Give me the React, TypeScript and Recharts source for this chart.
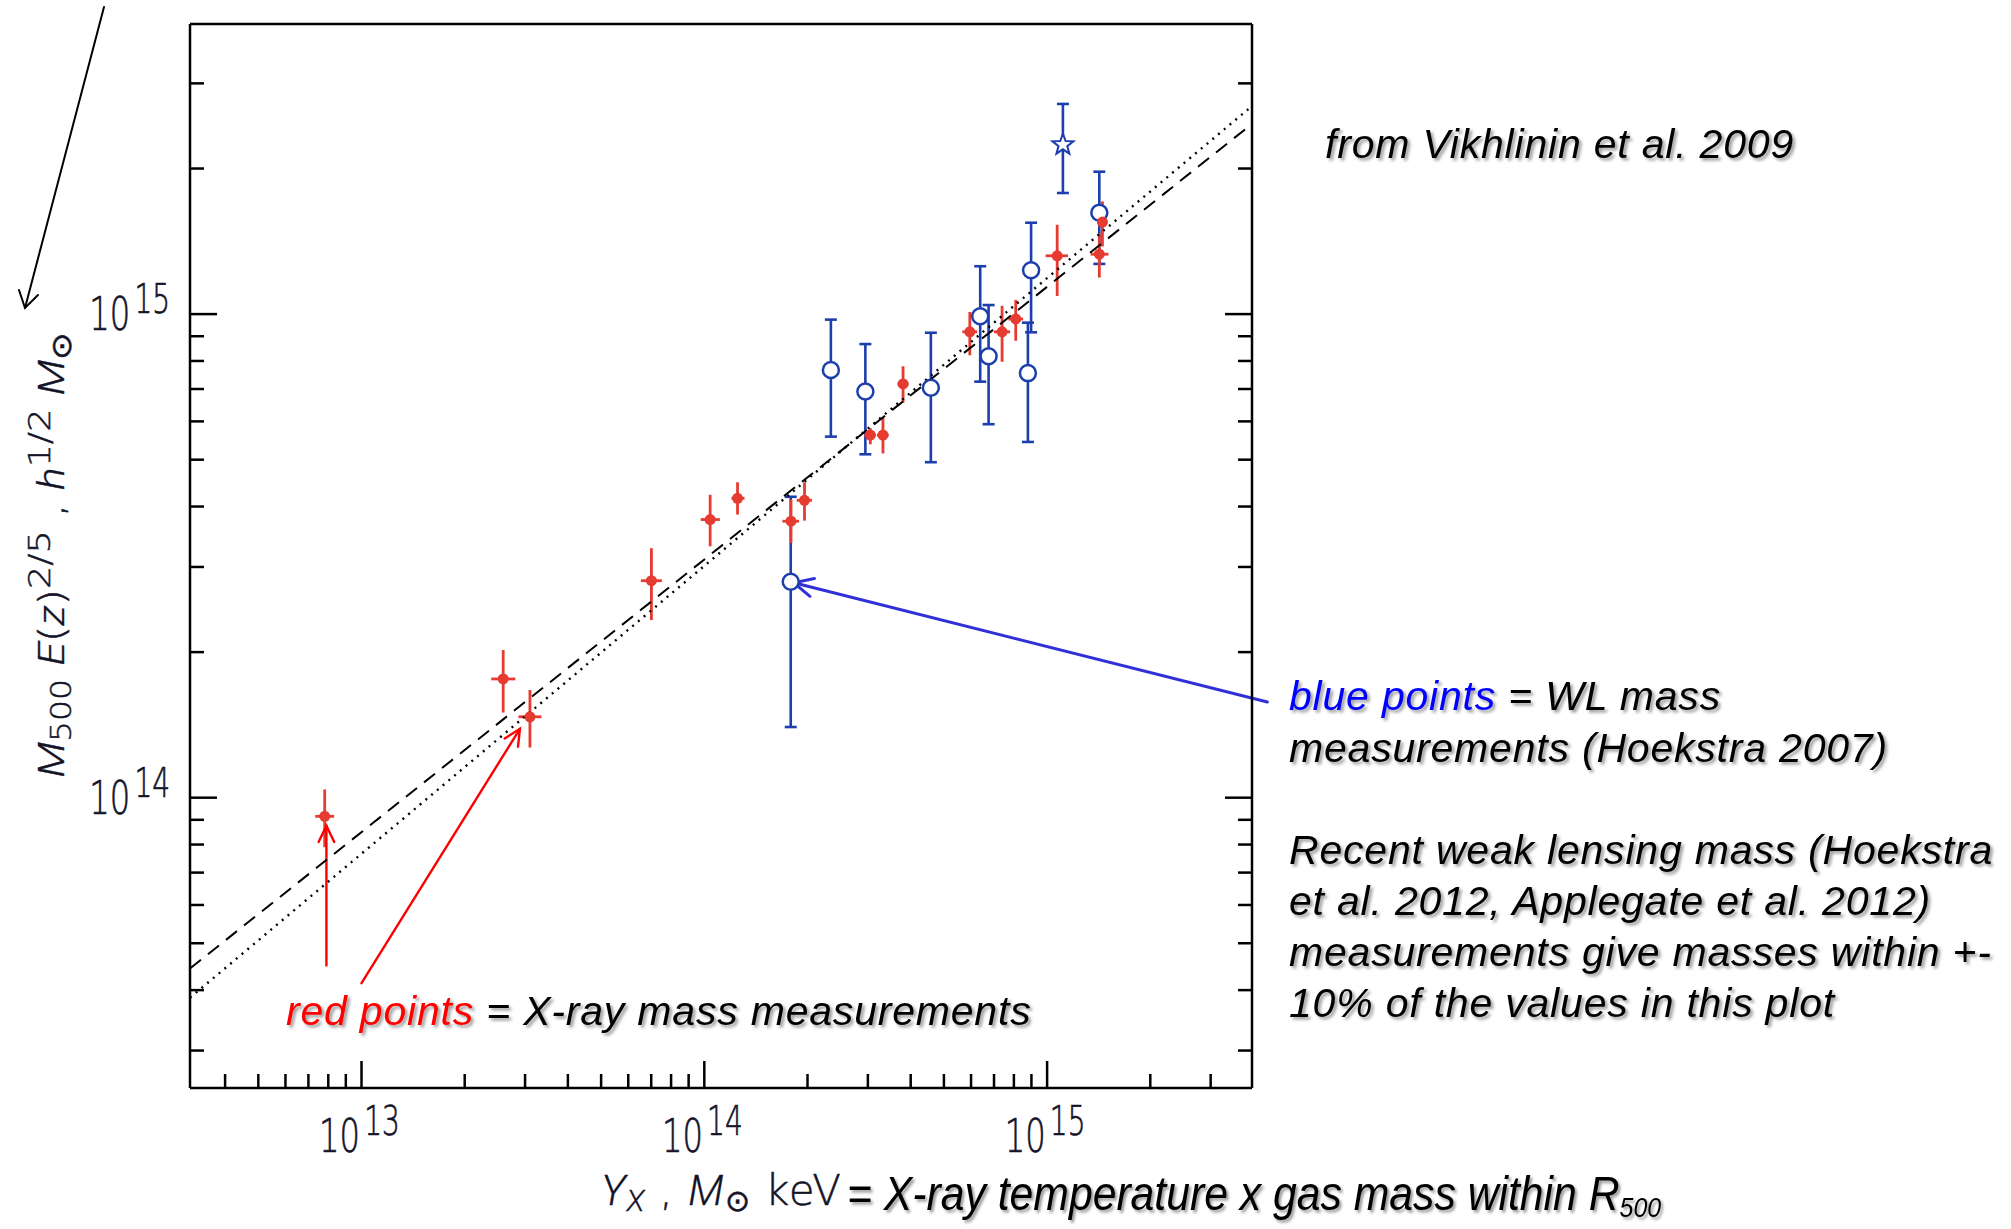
import React from 'react';
import { ScatterChart, Scatter, XAxis, YAxis, ErrorBar, ReferenceLine } from 'recharts';

const W = 2011;
const H = 1229;

const RED = '#e53b30';
const BLUE = '#1c3fad';
const INK = '#141428';
const PLOT_FONT = "'DejaVu Sans', sans-serif";
const PLOT_ITALIC = "Roboto, 'DejaVu Sans', sans-serif";
const NOTE_FONT = "'Liberation Sans', Arial, sans-serif";

// axis ranges (log scales)
const xDomain = [3.16e12, 3.96e15];
const yDomain = [2.51e13, 3.98e15];

const xTicks = [
  4e12, 5e12, 6e12, 7e12, 8e12, 9e12, 1e13,
  2e13, 3e13, 4e13, 5e13, 6e13, 7e13, 8e13, 9e13, 1e14,
  2e14, 3e14, 4e14, 5e14, 6e14, 7e14, 8e14, 9e14, 1e15,
  2e15, 3e15,
];
const yTicks = [
  3e13, 4e13, 5e13, 6e13, 7e13, 8e13, 9e13, 1e14,
  2e14, 3e14, 4e14, 5e14, 6e14, 7e14, 8e14, 9e14, 1e15,
  2e15, 3e15,
];
const xMajor = [1e13, 1e14, 1e15];
const xExp = ['13', '14', '15'];
const yMajor = [1e14, 1e15];
const yExp = ['14', '15'];

// red points: X-ray masses
const redYx = [7.81e12, 2.59e13, 3.10e13, 7.01e13, 1.04e14, 1.25e14, 1.79e14, 1.96e14, 3.05e14, 3.32e14, 3.80e14, 5.95e14, 7.39e14, 8.10e14, 1.07e15, 1.42e15, 1.45e15];
const redYxLo = [7.33e12, 2.39e13, 2.87e13, 6.53e13, 9.76e13, 1.20e14, 1.69e14, 1.86e14, 2.93e14, 3.19e14, 3.66e14, 5.66e14, 7.00e14, 7.71e14, 9.90e14, 1.34e15, 1.40e15];
const redYxHi = [8.32e12, 2.81e13, 3.35e13, 7.52e13, 1.11e14, 1.31e14, 1.89e14, 2.06e14, 3.17e14, 3.45e14, 3.94e14, 6.25e14, 7.80e14, 8.51e14, 1.15e15, 1.51e15, 1.50e15];
const redMass = [9.15e13, 1.76e14, 1.47e14, 2.81e14, 3.76e14, 4.16e14, 3.73e14, 4.12e14, 5.62e14, 5.62e14, 7.17e14, 9.19e14, 9.19e14, 9.77e14, 1.32e15, 1.33e15, 1.55e15];
const redMassLo = [7.90e13, 1.50e14, 1.27e14, 2.33e14, 3.31e14, 3.85e14, 3.36e14, 3.74e14, 5.38e14, 5.15e14, 6.56e14, 8.22e14, 7.97e14, 8.81e14, 1.09e15, 1.19e15, 1.38e15];
const redMassHi = [1.04e14, 2.02e14, 1.67e14, 3.28e14, 4.23e14, 4.49e14, 4.14e14, 4.49e14, 5.81e14, 6.12e14, 7.80e14, 1.01e15, 1.04e15, 1.07e15, 1.53e15, 1.47e15, 1.71e15];

// blue points: weak lensing masses
const blueYx = [2.34e14, 2.95e14, 4.58e14, 6.38e14, 6.75e14, 8.79e14, 8.98e14, 1.42e15, 1.787e14];
const blueMass = [7.66e14, 6.92e14, 7.04e14, 9.90e14, 8.18e14, 7.55e14, 1.232e15, 1.62e15, 2.795e14];
const blueMassLo = [5.58e14, 5.13e14, 4.94e14, 7.25e14, 5.92e14, 5.44e14, 9.17e14, 1.27e15, 1.40e14];
const blueMassHi = [9.74e14, 8.67e14, 9.15e14, 1.256e15, 1.044e15, 9.60e14, 1.545e15, 1.97e15, 4.19e14];

// the star point
const starYx = [1.112e15];
const starMass = [2.24e15];
const starMassLo = [1.78e15];
const starMassHi = [2.72e15];

// best fit lines, end points at the frame edges
const dottedYx = [3.16e12, 3.96e15];
const dottedMass = [3.858e13, 2.693e15];
const dashedYx = [3.16e12, 3.96e15];
const dashedMass = [4.434e13, 2.474e15];

const redData = redYx.map((x, i) => ({
  x,
  y: redMass[i],
  ey: [redMass[i] - redMassLo[i], redMassHi[i] - redMass[i]],
  ex: [x - redYxLo[i], redYxHi[i] - x],
}));
const blueData = blueYx.map((x, i) => ({
  x,
  y: blueMass[i],
  ey: [blueMass[i] - blueMassLo[i], blueMassHi[i] - blueMass[i]],
}));
const starData = starYx.map((x, i) => ({
  x,
  y: starMass[i],
  ey: [starMass[i] - starMassLo[i], starMassHi[i] - starMass[i]],
}));
const dottedData = dottedYx.map((x, i) => ({ x, y: dottedMass[i] }));
const dashedData = dashedYx.map((x, i) => ({ x, y: dashedMass[i] }));

const MAJOR_LEN = 27;
const MINOR_LEN = 14;
const findMajor = (v: number, majors: number[]) => majors.findIndex((m) => Math.abs(v / m - 1) < 1e-6);

// "10" with a raised exponent, squeezed like the plot font
function PowerLabel({ x, y, exp, anchor }: { x: number; y: number; exp: string; anchor: 'middle' | 'end' }) {
  return (
    <text
      transform={`translate(${x},${y}) scale(0.7,1)`}
      textAnchor={anchor}
      fontFamily={PLOT_FONT}
      fontWeight={200}
      fontSize={46}
      fill={INK}
      stroke={INK}
      strokeWidth={0.7}
    >
      10
      <tspan dx={6} dy={-17} fontSize={40}>{exp}</tspan>
    </text>
  );
}

function BottomTick(props: any) {
  const { x, y, payload } = props;
  const i = findMajor(payload.value, xMajor);
  return (
    <g>
      <line x1={x} y1={y} x2={x} y2={y - (i >= 0 ? MAJOR_LEN : MINOR_LEN)} stroke="#000" strokeWidth={2.5} />
      {i >= 0 && <PowerLabel x={x - 2} y={y + 64} exp={xExp[i]} anchor="middle" />}
    </g>
  );
}

function TopTick(props: any) {
  const { x, y, payload } = props;
  const i = findMajor(payload.value, xMajor);
  return <line x1={x} y1={y} x2={x} y2={y + (i >= 0 ? MAJOR_LEN : MINOR_LEN)} stroke="#000" strokeWidth={2.5} />;
}

function LeftTick(props: any) {
  const { x, y, payload } = props;
  const i = findMajor(payload.value, yMajor);
  return (
    <g>
      <line x1={x} y1={y} x2={x + (i >= 0 ? MAJOR_LEN : MINOR_LEN)} y2={y} stroke="#000" strokeWidth={2.5} />
      {i >= 0 && <PowerLabel x={x - 20} y={y + 16} exp={yExp[i]} anchor="end" />}
    </g>
  );
}

function RightTick(props: any) {
  const { x, y, payload } = props;
  const i = findMajor(payload.value, yMajor);
  return <line x1={x} y1={y} x2={x - (i >= 0 ? MAJOR_LEN : MINOR_LEN)} y2={y} stroke="#000" strokeWidth={2.5} />;
}

const RedDot = (p: any) => <circle cx={p.cx} cy={p.cy} r={5.5} fill={RED} />;
const BlueRing = (p: any) => <circle cx={p.cx} cy={p.cy} r={8} fill="#fff" stroke={BLUE} strokeWidth={2.5} />;
const NoDot = () => <g />;

function StarMark(p: any) {
  const pts: string[] = [];
  for (let k = 0; k < 10; k++) {
    const a = (-90 + k * 36) * (Math.PI / 180);
    const r = k % 2 === 0 ? 11 : 4.6;
    pts.push(`${p.cx + r * Math.cos(a)},${p.cy + r * Math.sin(a)}`);
  }
  return <polygon points={pts.join(' ')} fill="#fff" stroke={BLUE} strokeWidth={2} />;
}

// line with an open arrow head at (x2, y2)
function arrow(color: string, width: number, head: number) {
  return (p: any) => {
    const { x1, y1, x2, y2 } = p;
    const ang = Math.atan2(y1 - y2, x1 - x2);
    const spread = 0.45;
    return (
      <g stroke={color} strokeWidth={width} fill="none" strokeLinecap="round">
        <line x1={x1} y1={y1} x2={x2} y2={y2} />
        <polyline
          points={`${x2 + head * Math.cos(ang + spread)},${y2 + head * Math.sin(ang + spread)} ${x2},${y2} ${x2 + head * Math.cos(ang - spread)},${y2 + head * Math.sin(ang - spread)}`}
        />
      </g>
    );
  };
}

const noteLines = [
  'Recent weak lensing mass (Hoekstra',
  'et al. 2012, Applegate et al. 2012)',
  'measurements give masses within +-',
  '10% of the values in this plot',
];

// italic symbol in the plot's light face
const It = ({ children, ...rest }: any) => (
  <tspan fontFamily={PLOT_ITALIC} fontStyle="italic" fontWeight={300} strokeWidth={0.3} {...rest}>
    {children}
  </tspan>
);

export default function App() {
  const noteStyle = {
    fontFamily: NOTE_FONT,
    fontStyle: 'italic' as const,
    fontSize: 41,
    letterSpacing: 0.8,
  };
  return (
    <div style={{ position: 'absolute', left: 0, top: 0, width: W, height: H, background: '#fff' }}>
      <ScatterChart width={W} height={H} margin={{ top: 20, right: 755, bottom: 81, left: 130 }}>
        <XAxis
          dataKey="x"
          type="number"
          scale="log"
          domain={xDomain}
          allowDataOverflow
          ticks={xTicks}
          interval={0}
          height={60}
          tickSize={0}
          tickMargin={0}
          tickLine={false}
          axisLine={{ stroke: '#000', strokeWidth: 2.5 }}
          tick={(p: any) => <BottomTick {...p} />}
        />
        <XAxis
          xAxisId="top"
          orientation="top"
          type="number"
          scale="log"
          domain={xDomain}
          allowDataOverflow
          ticks={xTicks}
          interval={0}
          height={4}
          tickSize={0}
          tickMargin={0}
          tickLine={false}
          axisLine={{ stroke: '#000', strokeWidth: 2.5 }}
          tick={(p: any) => <TopTick {...p} />}
        />
        <YAxis
          dataKey="y"
          type="number"
          scale="log"
          domain={yDomain}
          allowDataOverflow
          ticks={yTicks}
          interval={0}
          width={60}
          tickSize={0}
          tickMargin={0}
          tickLine={false}
          axisLine={{ stroke: '#000', strokeWidth: 2.5 }}
          tick={(p: any) => <LeftTick {...p} />}
        />
        <YAxis
          yAxisId="right"
          orientation="right"
          type="number"
          scale="log"
          domain={yDomain}
          allowDataOverflow
          ticks={yTicks}
          interval={0}
          width={4}
          tickSize={0}
          tickMargin={0}
          tickLine={false}
          axisLine={{ stroke: '#000', strokeWidth: 2.5 }}
          tick={(p: any) => <RightTick {...p} />}
        />

        <Scatter
          data={dashedData}
          shape={NoDot}
          line={{ stroke: '#000', strokeWidth: 2, strokeDasharray: '14 9' }}
          isAnimationActive={false}
        />
        <Scatter
          data={dottedData}
          shape={NoDot}
          line={{ stroke: '#000', strokeWidth: 2.4, strokeDasharray: '2 5.5' }}
          isAnimationActive={false}
        />

        <Scatter data={blueData} shape={BlueRing} isAnimationActive={false}>
          <ErrorBar dataKey="ey" direction="y" width={6} stroke={BLUE} strokeWidth={2.6} isAnimationActive={false} />
        </Scatter>
        <Scatter data={starData} shape={StarMark} isAnimationActive={false}>
          <ErrorBar dataKey="ey" direction="y" width={6} stroke={BLUE} strokeWidth={2.6} isAnimationActive={false} />
        </Scatter>
        <Scatter data={redData} shape={RedDot} isAnimationActive={false}>
          <ErrorBar dataKey="ey" direction="y" width={0} stroke={RED} strokeWidth={2.8} isAnimationActive={false} />
          <ErrorBar dataKey="ex" direction="x" width={0} stroke={RED} strokeWidth={2.8} isAnimationActive={false} />
        </Scatter>

        <ReferenceLine
          segment={[{ x: 7.9e12, y: 4.5e13 }, { x: 7.9e12, y: 8.75e13 }]}
          ifOverflow="visible"
          shape={arrow('#ff0000', 2.4, 18)}
        />
        <ReferenceLine
          segment={[{ x: 1.0e13, y: 4.135e13 }, { x: 2.898e13, y: 1.388e14 }]}
          ifOverflow="visible"
          shape={arrow('#ff0000', 2.4, 18)}
        />
        <ReferenceLine
          segment={[{ x: 4.39e15, y: 1.577e14 }, { x: 1.825e14, y: 2.782e14 }]}
          ifOverflow="visible"
          shape={arrow('#3030d8', 3, 21)}
        />
      </ScatterChart>

      <svg width={W} height={H} style={{ position: 'absolute', left: 0, top: 0, pointerEvents: 'none' }}>
        <defs>
          <filter id="shadow" x="-5%" y="-30%" width="110%" height="170%">
            <feDropShadow dx="2.5" dy="2.5" stdDeviation="1.4" floodColor="#000" floodOpacity="0.4" />
          </filter>
        </defs>

        {/* arrow pointing at the y axis title */}
        <g stroke="#000" strokeWidth={2} fill="none" strokeLinecap="round">
          <line x1={104} y1={7} x2={25} y2={308} />
          <polyline points="19,290 25,308 38,295" />
        </g>

        {/* y axis title */}
        <text
          transform="translate(64,555) rotate(-90)"
          textAnchor="middle"
          fontFamily={PLOT_FONT}
          fontWeight={200}
          fontSize={36}
          fill={INK}
          stroke={INK}
          strokeWidth={0.5}
          textLength={445}
          lengthAdjust="spacingAndGlyphs"
        >
          <It>M</It>
          <tspan fontSize={28} dy={7}>500</tspan>
          <tspan dy={-7}> </tspan>
          <It>E</It>
          <tspan>(</tspan>
          <It>z</It>
          <tspan>)</tspan>
          <tspan fontSize={31} dy={-14}>2/5</tspan>
          <tspan dy={14}> , </tspan>
          <It>h</It>
          <tspan fontSize={31} dy={-14}>1/2</tspan>
          <tspan dy={14}> </tspan>
          <It>M</It>
          <tspan fontSize={28} dy={7}>⊙</tspan>
        </text>

        {/* x axis title */}
        <text
          x={601}
          y={1205}
          fontFamily={PLOT_FONT}
          fontWeight={200}
          fontSize={42}
          letterSpacing={1}
          fill={INK}
          stroke={INK}
          strokeWidth={0.5}
        >
          <It>Y</It>
          <It fontSize={30} dy={6}>X</It>
          <tspan dy={-6}> , </tspan>
          <It>M</It>
          <tspan fontSize={30} dy={6}>⊙</tspan>
          <tspan dy={-6}> keV</tspan>
        </text>
        <text
          transform="translate(847,1210) scale(0.89,1)"
          filter="url(#shadow)"
          fontFamily={NOTE_FONT}
          fontStyle="italic"
          fontSize={48}
          fill="#000"
        >
          = X-ray temperature x gas mass within R
          <tspan fontSize={28} dy={7}>500</tspan>
        </text>

        {/* notes */}
        <g filter="url(#shadow)" fill="#000" style={noteStyle}>
          <text x={1325} y={158}>from Vikhlinin et al. 2009</text>
          <text x={1289} y={710}>
            <tspan fill="#0000ff">blue points</tspan> = WL mass
          </text>
          <text x={1289} y={762}>measurements (Hoekstra 2007)</text>
          {noteLines.map((t, i) => (
            <text key={i} x={1289} y={864 + i * 51}>{t}</text>
          ))}
          <text x={286} y={1025}>
            <tspan fill="#ff0000">red points</tspan> = X-ray mass measurements
          </text>
        </g>
      </svg>
    </div>
  );
}
